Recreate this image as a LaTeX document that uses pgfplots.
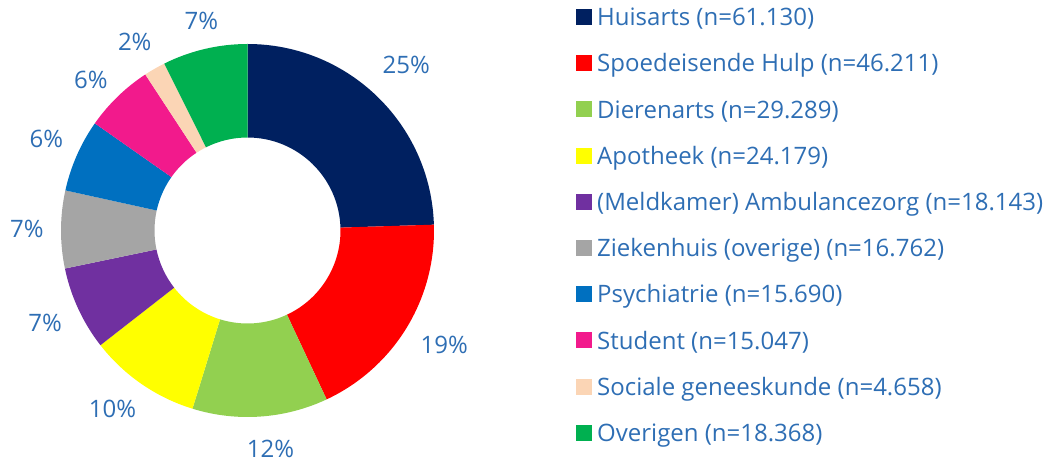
\documentclass[border=0pt]{standalone}
\usepackage{fontspec}
\setmainfont{Open Sans}
\usepackage{pgfplots}
\usepackage{pgfplotstable}
\pgfplotsset{compat=1.18}

\definecolor{txt}{HTML}{2E6EB4}
\definecolor{col0}{HTML}{002060}
\definecolor{col1}{HTML}{FF0000}
\definecolor{col2}{HTML}{92D050}
\definecolor{col3}{HTML}{FFFF00}
\definecolor{col4}{HTML}{7030A0}
\definecolor{col5}{HTML}{A5A5A5}
\definecolor{col6}{HTML}{0070C0}
\definecolor{col7}{HTML}{F21A8C}
\definecolor{col8}{HTML}{FBD5B5}
\definecolor{col9}{HTML}{00B050}

% value; label position: angle (clockwise from top, deg) and radius (pt)
\pgfplotstableread{
idx value lang  lrad
0   61130 43.87 171.8
1   46211 120.08 170.6
2   29289 173.99 164.8
3   24179 217.05 168.0
4   18143 245.47 166.8
5   16762 270.47 165.5
6   15690 294.45 165.8
7   15047 313.94 163.2
8   4658  329.15 164.9
9   18368 347.59 161.3
}\datatable

% cumulative sums
\def\total{0}
\pgfplotsforeachungrouped \i in {0,...,9}{%
  \pgfplotstablegetelem{\i}{value}\of\datatable
  \expandafter\xdef\csname v\i\endcsname{\pgfplotsretval}%
  \expandafter\xdef\csname p\i\endcsname{\total}%
  \xdef\total{\fpeval{\total+\pgfplotsretval}}%
  \pgfplotstablegetelem{\i}{lang}\of\datatable
  \expandafter\xdef\csname la\i\endcsname{\fpeval{90-\pgfplotsretval}}%
  \pgfplotstablegetelem{\i}{lrad}\of\datatable
  \expandafter\xdef\csname lr\i\endcsname{\pgfplotsretval pt}%
}
\pgfplotsforeachungrouped \i in {0,...,9}{%
  \expandafter\xdef\csname s\i\endcsname{\fpeval{90-360*\csname p\i\endcsname/\total}}%
  \expandafter\xdef\csname e\i\endcsname{\fpeval{90-360*(\csname p\i\endcsname+\csname v\i\endcsname)/\total}}%
  \expandafter\xdef\csname q\i\endcsname{\fpeval{round(100*\csname v\i\endcsname/\total)}}%
}

\def\Ro{139.875pt}
\def\Ri{69.75pt}

\begin{document}
\begin{tikzpicture}
\begin{axis}[
  scale only axis,
  width=786.75pt, height=349.5pt,
  xmin=0, xmax=1049, ymin=0, ymax=466,
  y dir=reverse,
  hide axis, clip=false,
  legend cell align=left,
  legend style={at={(axis cs:576,7)}, anchor=north west, draw=none, fill=none,
    inner sep=0pt, outer sep=0pt,
    font=\fontsize{18}{21}\selectfont, text=txt,
    row sep=16.15pt, column sep=4.25pt,
    nodes={inner sep=0pt, text height=14pt, text depth=4.5pt}},
  legend image code/.code={\fill[#1] (0pt,-3.75pt) rectangle (11.25pt,7.5pt);},
]
\coordinate (BL) at (axis cs:0,466);
\coordinate (TR) at (axis cs:1049,0);
\pgfplotsinvokeforeach{0,...,9}{
  \begin{scope}[shift={(axis cs:247.5,230.5)}]
    \fill[col#1] (\csname s#1\endcsname:\Ro)
      arc[start angle=\csname s#1\endcsname, end angle=\csname e#1\endcsname, radius=\Ro]
      -- (\csname e#1\endcsname:\Ri)
      arc[start angle=\csname e#1\endcsname, end angle=\csname s#1\endcsname, radius=\Ri]
      -- cycle;
    \node[inner sep=0pt, text=txt, font=\fontsize{18}{21}\selectfont,
      anchor=center] at (\csname la#1\endcsname:\csname lr#1\endcsname) {\csname q#1\endcsname\%};
  \end{scope}
}
\addlegendimage{col0}\addlegendentry{Huisarts (n=61.130)}
\addlegendimage{col1}\addlegendentry{Spoedeisende Hulp (n=46.211)}
\addlegendimage{col2}\addlegendentry{Dierenarts (n=29.289)}
\addlegendimage{col3}\addlegendentry{Apotheek (n=24.179)}
\addlegendimage{col4}\addlegendentry{(Meldkamer) Ambulancezorg (n=18.143)}
\addlegendimage{col5}\addlegendentry{Ziekenhuis (overige) (n=16.762)}
\addlegendimage{col6}\addlegendentry{Psychiatrie (n=15.690)}
\addlegendimage{col7}\addlegendentry{Student (n=15.047)}
\addlegendimage{col8}\addlegendentry{Sociale geneeskunde (n=4.658)}
\addlegendimage{col9}\addlegendentry{Overigen (n=18.368)}
\end{axis}
\pgfresetboundingbox
\path[use as bounding box] (BL) rectangle (TR);
\end{tikzpicture}
\end{document}
